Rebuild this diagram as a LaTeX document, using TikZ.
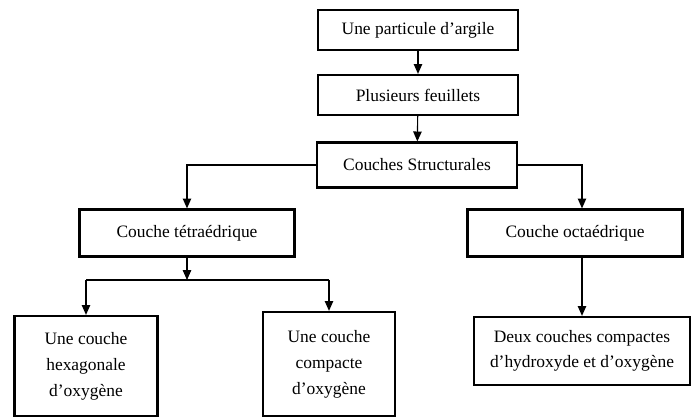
\documentclass[tikz,border=0pt]{standalone}
\usepackage{fontspec}
\setmainfont{Liberation Serif}
\usetikzlibrary{arrows.meta, positioning}

\begin{document}
\begin{tikzpicture}[x=0.025cm, y=-0.025cm,
            font=\fontsize{12.4}{18.5}\selectfont,
            box/.style={draw, line width=1.6pt, align=center, inner sep=2pt},
            link/.style={-{Triangle[length=7pt, width=6pt]}, line width=0.8pt}]

            \useasboundingbox (0,0) rectangle (693,419);

            % Top of the chain
            \node[box, minimum width=5cm, minimum height=1cm] (part) at (418,30) {Une particule d’argile};
            \node[box, minimum width=5cm, minimum height=1cm] (feuil) at (418,95) {Plusieurs feuillets};
            \node[box, minimum width=5cm, minimum height=1.125cm] (struct) at (417,165) {Couches Structurales};

            % The two kinds of layer
            \node[box, minimum width=5.375cm, minimum height=1.175cm] (tetra) at (187,233) {Couche tétraédrique};
            \node[box, minimum width=5.375cm, minimum height=1.175cm] (octa) at (575,233) {Couche octaédrique};

            % Bottom boxes
            \node[box, minimum width=3.575cm, minimum height=2.5cm] (hex) at (86,366) {Une couche\\hexagonale\\d’oxygène};
            \node[box, minimum width=3.3cm, minimum height=2.6cm] (compact) at (329,364) {Une couche\\compacte\\d’oxygène};
            \node[box, minimum width=5.4cm, minimum height=1.7cm, font=\fontsize{12.4}{17.5}\selectfont] (deux) at (582,351) {Deux couches compactes\\d’hydroxyde et d’oxygène};

            % Connectors
            \coordinate (split) at (187,280);
            \coordinate (ocol) at (582,165);
            \draw[link] (part) -- (feuil);
            \draw[link] (feuil) -- (struct);
            \draw[link] (struct.west) -| (tetra.north);
            \draw[link] (struct.east) -- (ocol) -- (ocol |- octa.north);
            \draw[link] (tetra) -- (split);
            \draw[line width=0.8pt] (hex.north |- split) -- (compact.north |- split);
            \draw[link] (hex.north |- split) -- (hex.north);
            \draw[link] (compact.north |- split) -- (compact.north);
            \draw[link] (ocol |- octa.south) -- (ocol |- deux.north);
        \end{tikzpicture}
\end{document}
